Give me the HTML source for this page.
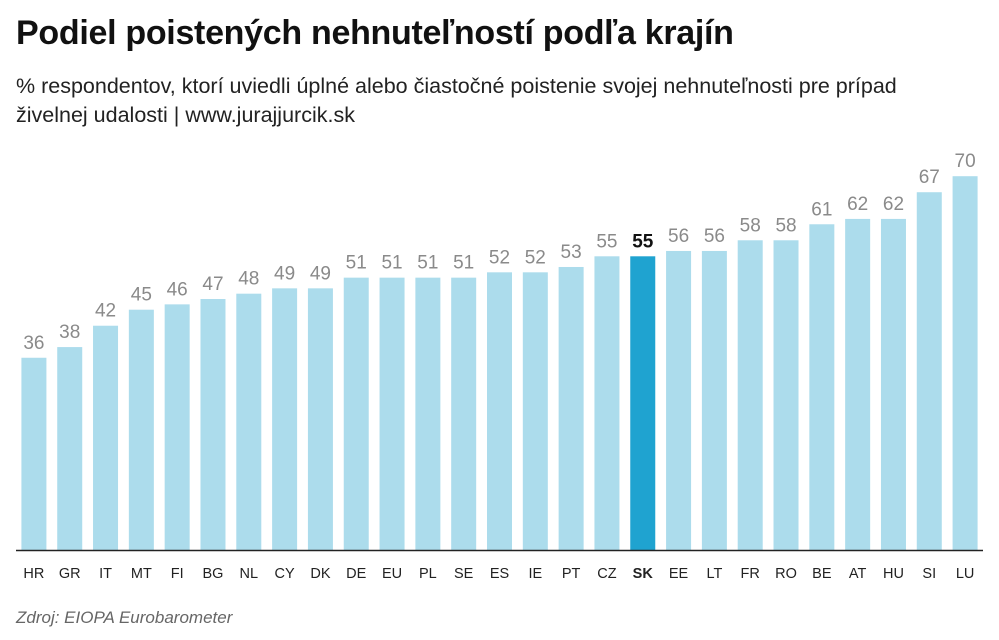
<!DOCTYPE html>
<html><head><meta charset="utf-8"><style>
body{margin:0;background:#fff;width:999px;height:640px;overflow:hidden;font-family:"Liberation Sans",sans-serif}
h1{position:absolute;left:16px;top:14px;margin:0;font-size:34px;font-weight:bold;color:#111;letter-spacing:-0.3px}
.sub{position:absolute;left:16px;top:72px;width:940px;font-size:21.5px;line-height:29px;color:#222}
.src{position:absolute;left:16px;top:608px;font-size:17px;font-style:italic;color:#666}
svg{position:absolute;left:0;top:0}
</style></head><body>
<h1>Podiel poistených nehnuteľností podľa krajín</h1>
<div class="sub">% respondentov, ktorí uviedli úplné alebo čiastočné poistenie svojej nehnuteľnosti pre prípad živelnej udalosti | www.jurajjurcik.sk</div>
<div class="src">Zdroj: EIOPA Eurobarometer</div>
<svg id="c" width="999" height="640"></svg>
<script>
const categories=["HR","GR","IT","MT","FI","BG","NL","CY","DK","DE","EU","PL","SE","ES","IE","PT","CZ","SK","EE","LT","FR","RO","BE","AT","HU","SI","LU"];
const values=[36,38,42,45,46,47,48,49,49,51,51,51,51,52,52,53,55,55,56,56,58,58,61,62,62,67,70];
const highlight="SK";
const svg=document.getElementById('c');
const NS='http://www.w3.org/2000/svg';
const x0=16,x1=983,base=550,band=(x1-x0)/categories.length,bw=25;
const y=v=>base-v*5.34;
const xc=i=>x0+band*(i+0.5);
function mk(t,a){const e=document.createElementNS(NS,t);for(const k in a)e.setAttribute(k,a[k]);svg.appendChild(e);return e;}
categories.forEach((c,i)=>{
  const hl=c===highlight;
  const r=mk('rect',{x:xc(i)-bw/2,y:y(values[i]),width:bw,height:base-y(values[i]),fill:hl?'#1fa3d0':'#acdcec'});
  
  
  const t=mk('text',{x:xc(i),y:y(values[i])-9,'text-anchor':'middle','font-size':19,fill:hl?'#111':'#8a8a8a','font-weight':hl?'bold':'normal'});
  t.textContent=values[i];
  
  
  const l=mk('text',{x:xc(i),y:578,'text-anchor':'middle','font-size':14.5,fill:'#222','font-weight':hl?'bold':'normal'});
  l.textContent=c;
  
  
});
const ax=mk('line',{x1:x0,x2:x1,y1:base+0.5,y2:base+0.5,stroke:'#222','stroke-width':1.5});


</script>
</body></html>
